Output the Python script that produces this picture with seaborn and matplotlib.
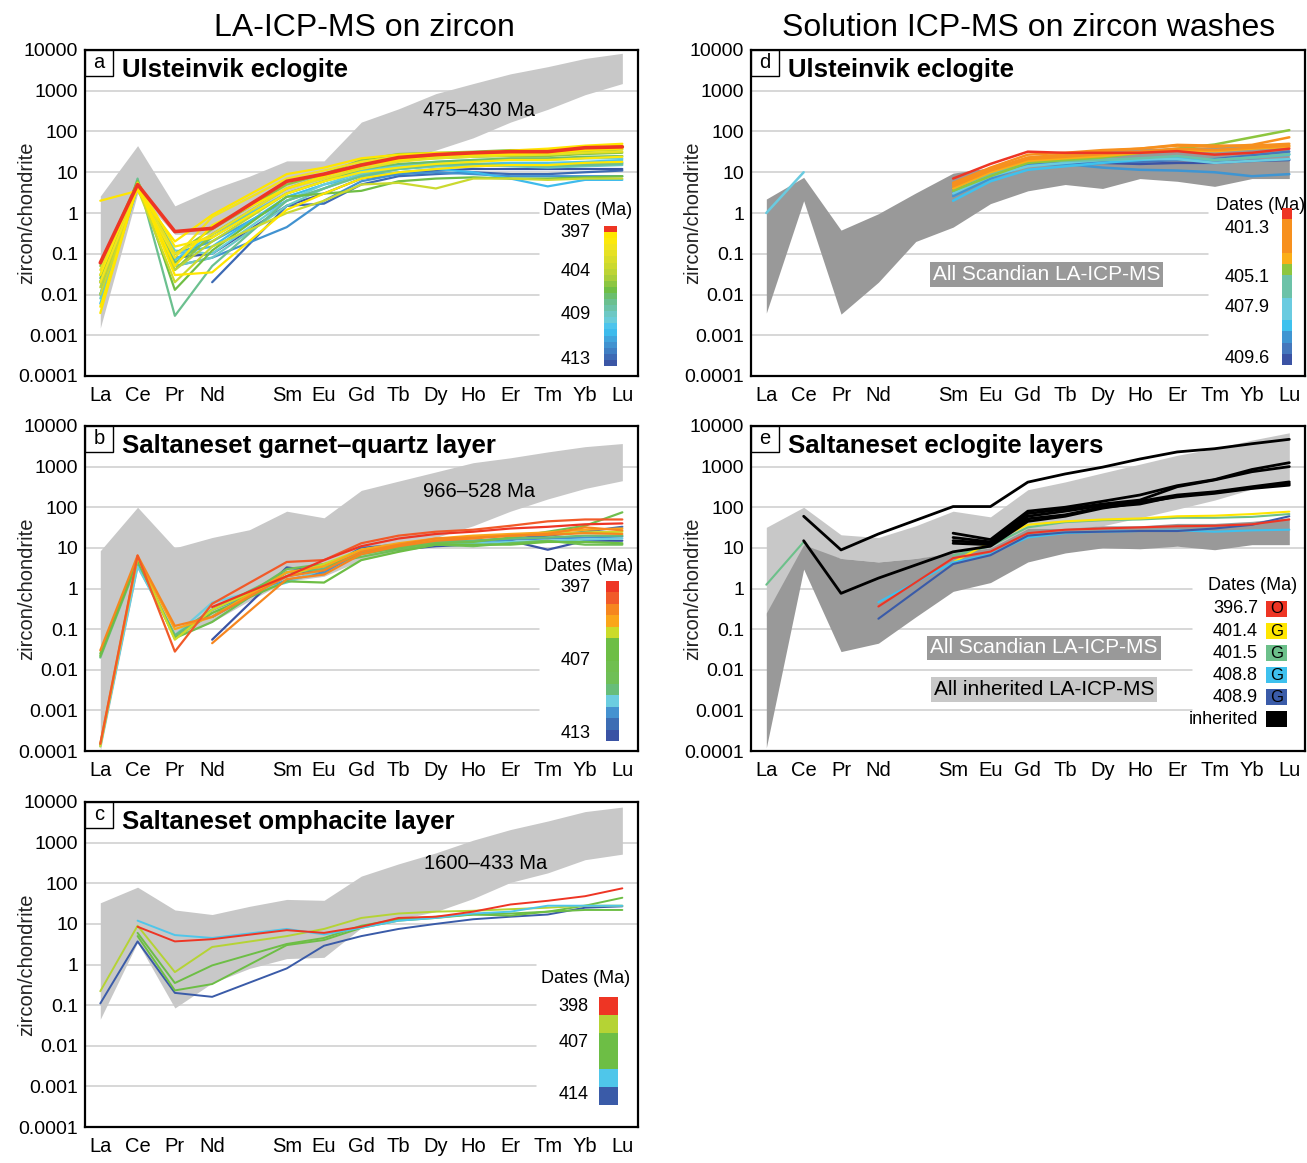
import numpy as np
import pandas as pd
import matplotlib
matplotlib.use("Agg")
import matplotlib.pyplot as plt
from matplotlib.colors import ListedColormap
from matplotlib.patches import Rectangle
from matplotlib.ticker import NullLocator
import seaborn as sns

sns.set_theme(style="white")
plt.rcParams['font.family'] = ['Liberation Sans', 'DejaVu Sans']
plt.rcParams['text.color'] = 'black'

nan = np.nan
elements = ['La', 'Ce', 'Pr', 'Nd', 'Sm', 'Eu', 'Gd', 'Tb', 'Dy', 'Ho', 'Er', 'Tm', 'Yb', 'Lu']
elem_pos = [0, 1, 2, 3, 5, 6, 7, 8, 9, 10, 11, 12, 13, 14]   # Pm (4) left empty
env_pos = list(range(15))                                      # envelopes include Pm
decades = [1e-4, 1e-3, 1e-2, 1e-1, 1, 10, 100, 1000, 10000]
decade_labels = ['0.0001', '0.001', '0.01', '0.1', '1', '10', '100', '1000', '10000']

# ---------------- panel a : Ulsteinvik eclogite (LA-ICP-MS) ----------------
a_env_hi = [2.6, 45, 1.5, 3.8, 8, 19, 19, 170, 360, 850, 1500, 2600, 3900, 6200, 8300]
a_env_lo = [0.0015, 3, 0.3, 0.3, 0.8, 3, 6, 10, 20, 35, 70, 170, 350, 800, 1500]
a_strip = ['#EE3524', '#FFE600', '#FCE80B', '#F2E41C', '#E6E124', '#D9DD2A', '#CBD92F',
           '#BDD435', '#A9CE3B', '#8CC641', '#6FBE45', '#6BBE6E', '#6BC08F', '#6CC3A8',
           '#6DC8C4', '#6ACCD8', '#4DC4EC', '#3EBBEC', '#41A5DD', '#4192D0', '#3F7FC3',
           '#3D6AB4', '#3B56A5']
a_dates = ['397', '404', '409', '413']
a_lines = [
    [nan, nan, nan, 0.02, 1.5, 1.7, 5, 8, 9, 10, 9, 9, 10, 11],
    [0.02, 5, 0.08, 0.1, 1.5, 3, 7, 9, 11, 12, 12, 12, 12, 12],
    [0.01, 4.5, 0.05, 0.08, 0.45, 2, 6, 9, 10, 9, 8, 8, 8, 8],
    [0.02, 5, 0.1, 0.2, 2, 4, 9, 12, 14, 14, 15, 15, 16, 17],
    [0.006, 4, 0.1, 0.15, 2.5, 5, 8, 10, 12, 10, 7, 4.5, 6.5, 6.5],
    [0.01, 5, 0.07, 0.3, 3, 6, 11, 14, 16, 16, 17, 17, 18, 20],
    [0.02, 5, 0.12, 0.1, 2, 5, 10, 15, 18, 20, 20, 20, 22, 22],
    [0.008, 4.5, 0.05, 0.08, 1.5, 4, 9, 12, 14, 15, 14, 13, 14, 15],
    [0.01, 7, 0.003, 0.05, 2, 4, 8, 12, 15, 16, 15, 14, 15, 16],
    [0.025, 6, 0.06, 0.25, 3, 6, 12, 16, 18, 20, 22, 22, 24, 25],
    [0.03, 6, 0.013, 0.12, 2.5, 3, 3.5, 6, 7, 7.5, 7, 7, 7.5, 8],
    [0.02, 5, 0.04, 0.3, 4, 8, 16, 20, 22, 24, 25, 25, 28, 30],
    [0.05, 6, 0.1, 0.4, 5, 9, 20, 28, 30, 32, 35, 35, 38, 40],
    [0.015, 5, 0.04, 0.2, 3, 6, 14, 22, 25, 27, 28, 29, 33, 36],
    [0.01, 4, 0.02, 0.15, 1, 2, 5, 5.5, 4, 7, 7, 6.5, 7, 7],
    [0.04, 5, 0.1, 0.3, 4, 7, 12, 18, 22, 24, 26, 27, 30, 32],
    [0.02, 4, 0.08, 0.8, 7, 11, 18, 24, 28, 30, 32, 35, 40, 45],
    [0.03, 5.5, 0.15, 0.25, 3, 6, 10, 13, 16, 18, 20, 20, 22, 24],
    [0.005, 4.5, 0.05, 0.5, 4, 8, 14, 20, 25, 27, 28, 30, 35, 38],
    [0.0035, 5, 0.03, 0.035, 1.2, 3, 7, 10, 12, 14, 15, 15, 17, 18],
    [2, 3.5, 0.2, 0.9, 9, 13, 22, 27, 30, 30, 34, 38, 45, 50],
]
a_bins = [21, 22, 19, 18, 17, 16, 15, 14, 12, 11, 10, 9, 9, 7, 6, 4, 3, 2, 1, 1, 1]
a_red = [0.06, 5, 0.35, 0.42, 6, 9, 15, 23, 27, 30, 32, 32, 40, 42]

# ---------------- panel b : Saltaneset garnet-quartz layer ----------------
b_env_hi = [8.5, 100, 10, 18, 28, 80, 55, 260, 440, 740, 1250, 1650, 2300, 3100, 3700]
b_env_lo = [0.0001, 3, 0.06, 0.15, 0.5, 1.5, 2, 5, 8, 18, 35, 80, 160, 290, 450]
b_strip = ['#EE3524', '#F15A29', '#F6861F', '#FAA61A', '#CBDB2A', '#6DBE45', '#6DBE45',
           '#70BF4F', '#6FBF57', '#67BD7A', '#6CCDE0', '#4592D0', '#3D6DB4', '#3A53A4']
b_dates = ['397', '407', '413']
b_lines = [
    [nan, nan, nan, 0.055, 3.3, 2.5, 10, 9, 11, 12, 15, 9, 15, 15],
    [nan, nan, nan, 0.2, 2, 3, 10, 12, 14, 15, 17, 20, 25, 33],
    [0.00014, 4, 0.07, 0.3, 1.6, 2.5, 8, 11, 13, 14, 16, 17, 18, 19],
    [0.00013, 3.5, 0.07, 0.45, 1.4, 3, 9, 12, 13, 13, 14, 15, 16, 17],
    [0.02, 4.5, 0.07, 0.3, 2.5, 3, 8, 11, 14, 15, 17, 18, 20, 20],
    [nan, nan, nan, 0.2, 3, 4, 6, 9, 12, 11, 13, 15, 12, 12],
    [0.025, 5.5, 0.06, 0.15, 2.5, 3.5, 7, 10, 13, 14, 18, 25, 35, 75],
    [0.022, 5, 0.06, 0.25, 1.5, 1.4, 5, 8, 12, 12, 12, 14, 14, 13],
    [0.00013, 6, 0.055, 0.3, 2, 4, 9, 12, 16, 18, 20, 22, 24, 25],
    [0.00015, 6, 0.1, 0.2, 2.5, 3.5, 9, 13, 17, 20, 22, 24, 28, 30],
    [0.03, 6.5, 0.12, 0.2, 2, 2.8, 8, 12, 17, 18, 20, 22, 32, 27],
    [nan, nan, nan, 0.045, 1.7, 2.2, 7, 11, 15, 17, 20, 21, 23, 22],
    [0.00015, 6.5, 0.028, 0.42, 4.5, 5, 13, 20, 25, 28, 35, 45, 50, 50],
    [nan, nan, nan, 0.35, 2, 5, 11, 17, 22, 25, 30, 33, 38, 40],
]
b_bins = [13, 12, 11, 10, 9, 8, 7, 5, 4, 3, 2, 2, 1, 0]

# ---------------- panel c : Saltaneset omphacite layer ----------------
c_env_hi = [33, 80, 22, 17, 27, 40, 38, 150, 300, 560, 1150, 2100, 3400, 5800, 7500]
c_env_lo = [0.045, 3.5, 0.085, 0.35, 0.8, 1.4, 1.5, 8, 13, 20, 42, 105, 180, 380, 520]
c_strip = ['#EE3524', '#B5D334', '#6DBE45', '#6DBE45', '#4FC6EA', '#3A5BA8']
c_dates = ['398', '407', '414']
c_lines = [
    [0.11, 3.7, 0.2, 0.16, 0.8, 2.9, 5, 7.5, 10, 13, 15, 17, 25, 27],
    [nan, 5, 0.23, 0.33, 3, 4, 8, 12, 14, 17, 18, 20, 22, 22],
    [nan, 6, 0.35, 0.95, 3.2, 4.5, 9, 13, 15, 17, 16, 20, 28, 44],
    [0.22, 9, 0.65, 2.7, 5, 7.5, 14, 18, 20, 21, 23, 25, 28, 28],
    [nan, 12, 5.3, 4.5, 7.5, 5.5, 8, 12, 14, 18, 20, 28, 28, 28],
    [nan, 8.5, 3.7, 4.2, 7, 6, 8.5, 14, 15, 20, 30, 37, 48, 75],
]
c_bins = [5, 3, 2, 1, 4, 0]

# ---------------- panel d : Ulsteinvik eclogite (zircon washes) ----------------
d_scan_hi = [2.2, 7.5, 0.38, 0.96, 3.1, 9.5, 13, 25, 30, 35, 38, 40, 42, 48, 52]
d_scan_lo = [0.0035, 2, 0.0033, 0.02, 0.2, 0.45, 1.7, 3.5, 5, 4, 7, 6, 4.5, 7, 7]
d_strip = ['#EE3524', '#F7901E', '#F7901E', '#F7901E', '#FBAE17', '#8DC63F', '#6CC2A8',
           '#6CC2A8', '#6ACBE0', '#6ACBE0', '#3EC1EE', '#3F95D2', '#4577BC', '#3B53A4']
d_dates = ['401.3', '405.1', '407.9', '409.6']
d_lines = [
    [nan, nan, nan, nan, 4, 9, 16, 16, 17, 16, 17, 17, 19, 20],
    [nan, nan, nan, nan, 3, 8, 16, 17, 18, 18, 20, 21, 26, 32],
    [nan, nan, nan, nan, 2.6, 7, 15, 16, 13, 11.5, 11, 10, 8, 9],
    [nan, nan, nan, nan, 2, 6, 11.5, 14, 17, 20, 23, 20, 23, 27],
    [nan, nan, nan, nan, 3, 8, 14, 17, 20, 21, 21, 17, 19, 21],
    [1.0, 10, nan, nan, nan, nan, nan, nan, nan, nan, nan, nan, nan, nan],
    [nan, nan, nan, nan, 4, 9, 18, 19, 20, 22, 25, 20, 23, 28],
    [nan, nan, nan, nan, 3.5, 8, 17, 20, 23, 30, 38, 48, 72, 108],
    [nan, nan, nan, nan, 4, 10, 19, 22, 25, 30, 35, 33, 38, 42],
    [nan, nan, nan, nan, 4.5, 11, 21, 24, 28, 32, 38, 35, 40, 45],
    [nan, nan, nan, nan, 5, 12, 23, 27, 33, 38, 47, 45, 45, 50],
    [nan, nan, nan, nan, 5.5, 13, 27, 30, 35, 38, 45, 42, 47, 72],
    [nan, nan, nan, nan, 7, 16, 32, 30, 30, 30, 33, 27, 30, 38],
]
d_bins = [13, 12, 11, 10, 9, 8, 6, 5, 4, 3, 2, 1, 0]

# ---------------- panel e : Saltaneset eclogite layers (zircon washes) ----------------
e_inh_hi = [32, 100, 21, 18, 35, 80, 58, 270, 420, 700, 1150, 1900, 2800, 4500, 6800]
e_inh_lo = [0.21, 10, 5.5, 4.5, 5.5, 7, 9, 20, 28, 35, 55, 90, 150, 280, 380]
e_scan_hi = [0.25, 12, 5.5, 4.5, 5.5, 7.5, 10, 30, 30, 35, 35, 40, 40, 45, 55]
e_scan_lo = [0.00012, 3, 0.028, 0.045, 0.2, 0.85, 1.4, 4.5, 7.5, 10, 9.5, 11, 9, 12, 12]
e_dates = ['396.7', '401.4', '401.5', '408.8', '408.9', 'inherited']
e_codes = ['O', 'G', 'G', 'G', 'G', '']
e_colors = ['#EE3524', '#FFE600', '#6CC08A', '#3EC1EE', '#3A5BA8', '#000000']
e_lines = [
    [1.24, 14, nan, nan, 6.5, 11, 32, 43, 48, 50, 55, 55, 58, 68],
    [nan, nan, nan, nan, 4.4, 14, 37, 45, 50, 53, 60, 62, 68, 78],
    [nan, nan, nan, 0.46, 4.4, 7, 18, 23, 25, 26, 27, 25, 27, 28],
    [nan, nan, nan, 0.18, 4.0, 6.6, 20, 24, 25, 26, 26, 30, 37, 60],
    [nan, nan, nan, 0.36, 5.6, 8.1, 23, 28, 30, 32, 34, 35, 38, 50],
]
e_bins = [2, 1, 3, 4, 0]
e_inherited = [
    [nan, 60, 8.9, 22, 104, 104, 415, 660, 970, 1540, 2300, 2760, 3660, 4700],
    [nan, 15, 0.76, 1.8, 8, 11, 45, 60, 95, 130, 180, 220, 290, 350],
    [nan, nan, nan, nan, 23, 16, 80, 100, 140, 200, 340, 480, 850, 1250],
    [nan, nan, nan, nan, 18, 14, 70, 90, 120, 150, 320, 470, 750, 1000],
    [nan, nan, nan, nan, 15, 13, 60, 80, 110, 140, 200, 240, 320, 420],
    [nan, nan, nan, nan, 13, 12, 52, 65, 100, 120, 190, 230, 300, 380],
]

LIGHT = '#C8C8C8'
DARK = '#999999'
GRID = '#CDCDCD'


def segments(vals):
    segs, cur = [], []
    for p, v in zip(elem_pos, vals):
        if np.isnan(v):
            if cur:
                segs.append(cur)
            cur = []
        else:
            cur.append((p, v))
    if cur:
        segs.append(cur)
    return segs


def draw_lines(ax, lines, colors, lw, tag, zorder=3):
    rows, pal = [], {}
    for i, (vals, col) in enumerate(zip(lines, colors)):
        for j, seg in enumerate(segments(vals)):
            key = '%s%d_%d' % (tag, i, j)
            pal[key] = col
            for p, v in seg:
                rows.append({'pos': p, 'val': v, 'line': key})
    df = pd.DataFrame(rows)
    sns.lineplot(data=df, x='pos', y='val', hue='line', palette=pal, estimator=None,
                 lw=lw, legend=False, ax=ax, zorder=zorder)


def setup(ax, grid_frac):
    ax.set_yscale('log')
    ax.set_ylim(1e-4, 1e4)
    ax.set_xlim(-0.41, 14.42)
    for v in [1000, 100, 10]:
        ax.axhline(v, color=GRID, lw=1.1, zorder=0.5)
    for v in [1, 0.1, 0.01, 0.001]:
        ax.axhline(v, xmax=grid_frac, color=GRID, lw=1.1, zorder=0.5)


def finish(ax):
    ax.set_ylim(1e-4, 1e4)
    ax.set_xlim(-0.41, 14.42)
    ax.set_yticks(decades)
    ax.set_yticklabels(decade_labels)
    ax.yaxis.set_minor_locator(NullLocator())
    ax.set_xticks(elem_pos)
    ax.set_xticklabels(elements)
    ax.set_xticks([p + 0.5 for p in range(14)], minor=True)
    ax.tick_params(axis='x', which='major', length=0, pad=7, labelsize=14.5, colors='black')
    ax.tick_params(axis='x', which='minor', length=7, width=1.4, direction='out', color='black')
    ax.tick_params(axis='y', which='major', length=0, pad=5, labelsize=14, colors='black')
    for s in ax.spines.values():
        s.set_color('black')
        s.set_linewidth(1.6)
        s.set_zorder(10)
    ax.set_xlabel('')
    ax.set_ylabel('zircon/chondrite', fontsize=14.5, color='#222222')
    ax.yaxis.set_label_coords(-0.088, 0.5)


def header(ax, letter, title, h_px):
    ax.add_patch(Rectangle((0, 1 - 26 / h_px), 28 / 553, 26 / h_px, transform=ax.transAxes,
                           fc='white', ec='black', lw=1.0, zorder=11))
    ax.text(14 / 553, 1 - 13 / h_px, letter, transform=ax.transAxes, ha='center',
            va='center', fontsize=14.5, zorder=12)
    ax.text(0.067, 1 - 20 / h_px, title, transform=ax.transAxes, ha='left', va='center',
            fontsize=18.5, fontweight='bold', zorder=12)


def strip(ax, colors, rect, labels, label_x, label_ys, dates_xy):
    sax = ax.inset_axes(rect)
    sax.imshow(np.arange(len(colors)).reshape(-1, 1), cmap=ListedColormap(colors),
               aspect='auto', interpolation='nearest')
    sax.axis('off')
    for lab, y in zip(labels, label_ys):
        ax.text(label_x, y, lab, transform=ax.transAxes, ha='right', va='center', fontsize=13)
    ax.text(dates_xy[0], dates_xy[1], 'Dates (Ma)', transform=ax.transAxes, ha='center',
            va='center', fontsize=13)


fig = plt.figure(figsize=(13.07, 11.63), dpi=100)
ax_a = fig.add_axes([85 / 1307, 1 - 376 / 1163, 553 / 1307, 326 / 1163])
ax_b = fig.add_axes([85 / 1307, 1 - 751 / 1163, 553 / 1307, 325 / 1163])
ax_c = fig.add_axes([85 / 1307, 1 - 1127 / 1163, 553 / 1307, 325 / 1163])
ax_d = fig.add_axes([751 / 1307, 1 - 376 / 1163, 554 / 1307, 326 / 1163])
ax_e = fig.add_axes([751 / 1307, 1 - 751 / 1163, 554 / 1307, 325 / 1163])

# panel a
setup(ax_a, 0.821)
ax_a.fill_between(env_pos, a_env_lo, a_env_hi, color=LIGHT, lw=0, zorder=1)
draw_lines(ax_a, a_lines, [a_strip[b] for b in a_bins], 1.6, 'a')
draw_lines(ax_a, [a_red], [a_strip[0]], 2.6, 'ar', zorder=4)
ax_a.text(0.712, 0.813, '475–430 Ma', transform=ax_a.transAxes, ha='center', va='center', fontsize=14.5)
header(ax_a, 'a', 'Ulsteinvik eclogite', 326)
strip(ax_a, a_strip, [0.9385, 0.0307, 0.0235, 0.4294], a_dates, 0.914,
      [0.4396, 0.32, 0.19, 0.052], (0.9096, 0.507))
finish(ax_a)

# panel b
setup(ax_b, 0.821)
ax_b.fill_between(env_pos, b_env_lo, b_env_hi, color=LIGHT, lw=0, zorder=1)
draw_lines(ax_b, b_lines, [b_strip[b] for b in b_bins], 1.6, 'b')
ax_b.text(0.712, 0.798, '966–528 Ma', transform=ax_b.transAxes, ha='center', va='center', fontsize=14.5)
header(ax_b, 'b', 'Saltaneset garnet–quartz layer', 325)
strip(ax_b, b_strip, [0.942, 0.0317, 0.0235, 0.491], b_dates, 0.914,
      [0.504, 0.278, 0.054], (0.91, 0.567))
finish(ax_b)

# panel c
setup(ax_c, 0.815)
ax_c.fill_between(env_pos, c_env_lo, c_env_hi, color=LIGHT, lw=0, zorder=1)
draw_lines(ax_c, c_lines, [c_strip[b] for b in c_bins], 1.4, 'c')
ax_c.text(0.724, 0.811, '1600–433 Ma', transform=ax_c.transAxes, ha='center', va='center', fontsize=14.5)
header(ax_c, 'c', 'Saltaneset omphacite layer', 325)
strip(ax_c, c_strip, [0.9295, 0.0686, 0.0338, 0.33], c_dates, 0.911,
      [0.370, 0.2615, 0.1015], (0.905, 0.456))
finish(ax_c)

# panel d
setup(ax_d, 0.825)
ax_d.fill_between(env_pos, d_scan_lo, d_scan_hi, color=DARK, lw=0, zorder=1)
draw_lines(ax_d, d_lines, [d_strip[b] for b in d_bins], 1.8, 'd')
ax_d.text(0.5334, 0.312, 'All Scandian LA-ICP-MS', transform=ax_d.transAxes, ha='center',
          va='center', fontsize=15, color='white',
          bbox=dict(boxstyle='square,pad=0.14', fc=DARK, ec='none'))
header(ax_d, 'd', 'Ulsteinvik eclogite', 326)
strip(ax_d, d_strip, [0.9576, 0.0344, 0.0171, 0.48], d_dates, 0.937,
      [0.452, 0.302, 0.210, 0.053], (0.919, 0.5245))
finish(ax_d)

# panel e
setup(ax_e, 0.796)
ax_e.fill_between(env_pos, e_inh_lo, e_inh_hi, color=LIGHT, lw=0, zorder=1)
ax_e.fill_between(env_pos, e_scan_lo, e_scan_hi, color=DARK, lw=0, zorder=1.5)
draw_lines(ax_e, e_lines, [e_colors[b] for b in e_bins], 1.5, 'e')
draw_lines(ax_e, e_inherited, [e_colors[5]] * len(e_inherited), 2.0, 'ei', zorder=4)
ax_e.text(0.529, 0.317, 'All Scandian LA-ICP-MS', transform=ax_e.transAxes, ha='center',
          va='center', fontsize=15, color='white',
          bbox=dict(boxstyle='square,pad=0.14', fc=DARK, ec='none'))
ax_e.text(0.529, 0.188, 'All inherited LA-ICP-MS', transform=ax_e.transAxes, ha='center',
          va='center', fontsize=15, color='black',
          bbox=dict(boxstyle='square,pad=0.14', fc=LIGHT, ec='none'))
header(ax_e, 'e', 'Saltaneset eclogite layers', 325)
ax_e.text(0.906, 0.508, 'Dates (Ma)', transform=ax_e.transAxes, ha='center', va='center', fontsize=13)
for k, (lab, code, col) in enumerate(zip(e_dates, e_codes, e_colors)):
    yc = 0.437 - k * 0.0678
    ax_e.add_patch(Rectangle((0.9297, yc - 0.024), 0.0378, 0.048, transform=ax_e.transAxes,
                             fc=col, ec='none', zorder=11))
    ax_e.text(0.9297 + 0.0189, yc, code, transform=ax_e.transAxes, ha='center', va='center',
              fontsize=12, zorder=12)
    ax_e.text(0.915, yc, lab, transform=ax_e.transAxes, ha='right', va='center', fontsize=13)
finish(ax_e)

fig.text(364.5 / 1307, 1 - 28 / 1163, 'LA-ICP-MS on zircon', ha='center', va='center', fontsize=23)
fig.text(1029 / 1307, 1 - 28 / 1163, 'Solution ICP-MS on zircon washes', ha='center', va='center',
         fontsize=23)

fig.savefig('out.png', dpi=100, facecolor='white')
